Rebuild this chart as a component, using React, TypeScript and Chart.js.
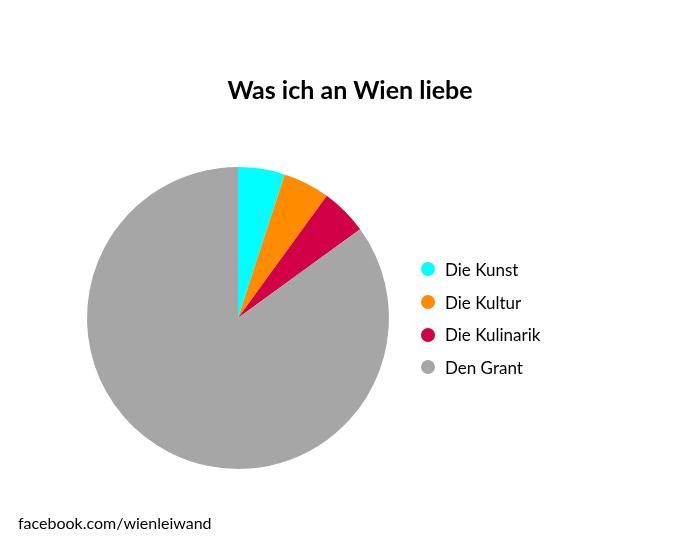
import { useEffect, useRef } from 'react';
import { ArcElement, Chart, PieController, Tooltip } from 'chart.js';

Chart.register(PieController, ArcElement, Tooltip);

const labels = ['Die Kunst', 'Die Kultur', 'Die Kulinarik', 'Den Grant'];
const shares = [5, 5, 5, 85];
const colors = ['#00ffff', '#ff8c00', '#d20046', '#a6a6a6'];

const font = 'Lato, "Open Sans", sans-serif';

export default function App() {
  const canvasRef = useRef<HTMLCanvasElement>(null);
  const chartRef = useRef<Chart | null>(null);

  useEffect(() => {
    if (!canvasRef.current) return;
    chartRef.current?.destroy();

    chartRef.current = new Chart(canvasRef.current, {
      type: 'pie',
      data: {
        labels,
        datasets: [
          {
            data: shares,
            backgroundColor: colors,
            borderWidth: 0,
          },
        ],
      },
      options: {
        responsive: true,
        maintainAspectRatio: false,
        animation: false,
        layout: { padding: { left: 87, right: 311, top: 167, bottom: 80 } },
        plugins: {
          legend: { display: false },
          tooltip: { enabled: true },
        },
      },
    });

    return () => chartRef.current?.destroy();
  }, []);

  return (
    <div
      style={{
        position: 'absolute',
        left: 0,
        top: 0,
        width: 700,
        height: 549,
        background: '#fff',
        fontFamily: font,
        color: '#000',
      }}
    >
      <canvas ref={canvasRef} />
      <div
        style={{
          position: 'absolute',
          left: 0,
          width: 700,
          top: 73,
          textAlign: 'center',
          fontSize: 25,
          fontWeight: 700,
          lineHeight: '32px',
        }}
      >
        Was ich an Wien liebe
      </div>
      <div style={{ position: 'absolute', left: 421, top: 253 }}>
        {labels.map((label, i) => (
          <div key={label} style={{ display: 'flex', alignItems: 'center', height: 32.7 }}>
            <span
              style={{
                width: 14,
                height: 14,
                borderRadius: '50%',
                background: colors[i],
                marginRight: 10,
              }}
            />
            <span style={{ fontSize: 17 }}>{label}</span>
          </div>
        ))}
      </div>
      <div style={{ position: 'absolute', left: 18, top: 513, fontSize: 16 }}>
        facebook.com/wienleiwand
      </div>
    </div>
  );
}
